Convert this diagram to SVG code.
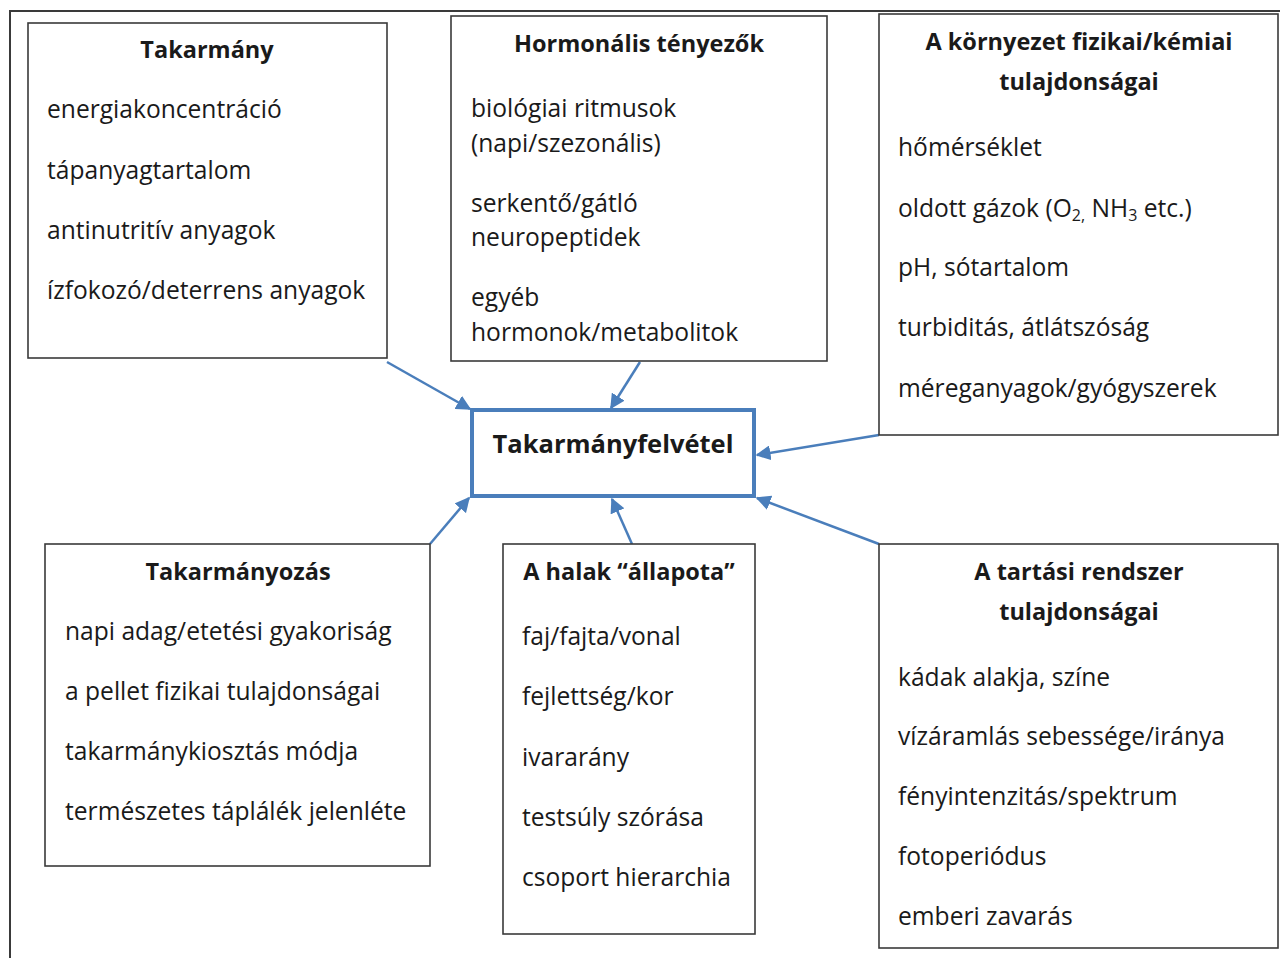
<svg xmlns="http://www.w3.org/2000/svg" width="1280" height="958" viewBox="0 0 1280 958">
<defs>
<style>
.box{fill:#fff;stroke:#3a3a3a;stroke-width:1.6}
.t{font-family:"Open Sans","Liberation Sans",sans-serif;font-size:24.6px;fill:#1a1a1a}
.h{font-family:"Open Sans","Liberation Sans",sans-serif;font-size:23.5px;font-weight:bold;fill:#1a1a1a;text-anchor:middle}
.hc{font-size:25.5px}
.c{stroke:#4a7ebb;stroke-width:2.5;fill:none;marker-end:url(#ah)}
</style>
<marker id="ah" viewBox="0 0 10 10" refX="9" refY="5" markerWidth="6" markerHeight="6" orient="auto" markerUnits="strokeWidth">
<path d="M0,0 L10,5 L0,10 z" fill="#4a7ebb"/>
</marker>
</defs>
<rect width="1280" height="958" fill="#fff"/>
<path d="M10,958 V11 H1280" fill="none" stroke="#3a3a3a" stroke-width="2"/>

<g id="connectors">
<line class="c" x1="387" y1="362" x2="470" y2="409"/>
<line class="c" x1="640" y1="362" x2="611" y2="408"/>
<line class="c" x1="879" y1="435" x2="757" y2="455"/>
<line class="c" x1="430" y1="544" x2="469" y2="498"/>
<line class="c" x1="632" y1="544" x2="612" y2="499"/>
<line class="c" x1="879" y1="544" x2="757" y2="498"/>
</g>

<g id="takarmany">
<rect class="box" x="28" y="23" width="359" height="335"/>
<text class="h" x="207" y="58">Takarmány</text>
<text class="t" x="47" y="118">energiakoncentráció</text>
<text class="t" x="47" y="179">tápanyagtartalom</text>
<text class="t" x="47" y="239">antinutritív anyagok</text>
<text class="t" x="47" y="299">ízfokozó/deterrens anyagok</text>
</g>

<g id="hormonalis">
<rect class="box" x="451" y="16" width="376" height="345"/>
<text class="h" x="639" y="52">Hormonális tényezők</text>
<text class="t" x="471" y="117">biológiai ritmusok</text>
<text class="t" x="471" y="152">(napi/szezonális)</text>
<text class="t" x="471" y="212">serkentő/gátló</text>
<text class="t" x="471" y="246">neuropeptidek</text>
<text class="t" x="471" y="306">egyéb</text>
<text class="t" x="471" y="341">hormonok/metabolitok</text>
</g>

<g id="kornyezet">
<rect class="box" x="879" y="14" width="399" height="421"/>
<text class="h" x="1079" y="50">A környezet fizikai/kémiai</text>
<text class="h" x="1079" y="90">tulajdonságai</text>
<text class="t" x="898" y="156">hőmérséklet</text>
<text class="t" x="898" y="217">oldott gázok (O<tspan style="font-size:16px" dy="4">2,</tspan><tspan dy="-4"> NH</tspan><tspan style="font-size:16px" dy="4">3</tspan><tspan dy="-4"> etc.)</tspan></text>
<text class="t" x="898" y="276">pH, sótartalom</text>
<text class="t" x="898" y="336">turbiditás, átlátszóság</text>
<text class="t" x="898" y="397">méreganyagok/gyógyszerek</text>
</g>

<g id="takarmanyfelvetel">
<rect x="472" y="410" width="282" height="86" fill="#fff" stroke="#4a7ebb" stroke-width="4"/>
<text class="h hc" x="613" y="453">Takarmányfelvétel</text>
</g>

<g id="takarmanyozas">
<rect class="box" x="45" y="544" width="385" height="322"/>
<text class="h" x="238" y="580">Takarmányozás</text>
<text class="t" x="65" y="640">napi adag/etetési gyakoriság</text>
<text class="t" x="65" y="700">a pellet fizikai tulajdonságai</text>
<text class="t" x="65" y="760">takarmánykiosztás módja</text>
<text class="t" x="65" y="820">természetes táplálék jelenléte</text>
</g>

<g id="halak">
<rect class="box" x="503" y="544" width="252" height="390"/>
<text class="h" x="629" y="580">A halak “állapota”</text>
<text class="t" x="522" y="645">faj/fajta/vonal</text>
<text class="t" x="522" y="705">fejlettség/kor</text>
<text class="t" x="522" y="766">ivararány</text>
<text class="t" x="522" y="826">testsúly szórása</text>
<text class="t" x="522" y="886">csoport hierarchia</text>
</g>

<g id="tartasi">
<rect class="box" x="879" y="544" width="399" height="404"/>
<text class="h" x="1079" y="580">A tartási rendszer</text>
<text class="h" x="1079" y="620">tulajdonságai</text>
<text class="t" x="898" y="686">kádak alakja, színe</text>
<text class="t" x="898" y="745">vízáramlás sebessége/iránya</text>
<text class="t" x="898" y="805">fényintenzitás/spektrum</text>
<text class="t" x="898" y="865">fotoperiódus</text>
<text class="t" x="898" y="925">emberi zavarás</text>
</g>
</svg>
